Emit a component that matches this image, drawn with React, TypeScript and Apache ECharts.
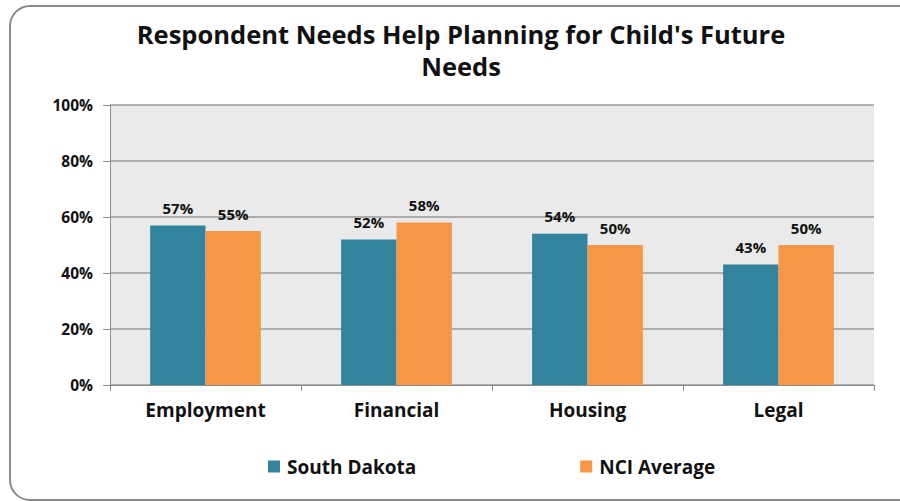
import React, { useEffect, useRef } from "react";
import * as echarts from "echarts";

const categories = ["Employment", "Financial", "Housing", "Legal"];
const southDakota = [57, 52, 54, 43];
const nciAverage = [55, 58, 50, 50];
const seriesNames = ["South Dakota", "NCI Average"];
const titleText = "Respondent Needs Help Planning for Child's Future\nNeeds";

const FONT = "'Open Sans', 'DejaVu Sans', sans-serif";

export default function App() {
  const ref = useRef<HTMLDivElement>(null);
  useEffect(() => {
    if (!ref.current) return;
    const chart = echarts.init(ref.current, undefined, { renderer: "svg" });
    const labelStyle = {
      show: true,
      position: "top" as const,
      formatter: "{c}%",
      fontFamily: FONT,
      fontWeight: "bold" as const,
      fontSize: 15,
      color: "#111",
      distance: 10,
    };
    chart.setOption({
      animation: false,
      backgroundColor: "#ffffff",
      title: {
        text: titleText,
        left: 461,
        textAlign: "center",
        top: 18,
        padding: 0,
        textStyle: {
          fontFamily: FONT,
          fontWeight: "bold",
          fontSize: 25.5,
          lineHeight: 32,
          color: "#111",
        },
      },
      graphic: [
        {
          type: "rect",
          shape: { x: 10, y: 6, width: 910, height: 494, r: 20 },
          style: { fill: "none", stroke: "#8a8a8a", lineWidth: 2 },
          silent: true,
          z: -10,
        },
      ],
      legend: {
        data: seriesNames,
        top: 457,
        left: 268,
        padding: 0,
        itemGap: 164,
        itemWidth: 12,
        itemHeight: 12,
        icon: "rect",
        textStyle: {
          fontFamily: FONT,
          fontWeight: "bold",
          fontSize: 19,
          color: "#111",
          padding: [0, 0, 0, 2],
        },
      },
      grid: {
        left: 110,
        right: 26,
        top: 105,
        bottom: 116,
        show: true,
        backgroundColor: "#eaeaea",
        borderWidth: 0,
      },
      xAxis: {
        type: "category",
        data: categories,
        axisLine: { show: true, lineStyle: { color: "#8c8c8c", width: 1 } },
        axisTick: { show: true, length: 6, lineStyle: { color: "#8c8c8c" } },
        axisLabel: {
          fontFamily: FONT,
          fontWeight: "bold",
          fontSize: 19,
          color: "#111",
          margin: 15,
        },
      },
      yAxis: {
        type: "value",
        min: 0,
        max: 100,
        interval: 20,
        axisLine: { show: true, lineStyle: { color: "#8c8c8c", width: 1 } },
        axisTick: { show: true, length: 7, lineStyle: { color: "#8c8c8c" } },
        splitLine: { show: true, lineStyle: { color: "#9a9a9a", width: 1.5 } },
        axisLabel: {
          formatter: "{value}%",
          fontFamily: FONT,
          fontWeight: "bold",
          fontSize: 15.5,
          color: "#111",
          margin: 17,
        },
      },
      series: [
        {
          name: seriesNames[0],
          type: "bar",
          data: southDakota,
          barGap: "0%",
          barCategoryGap: "42%",
          itemStyle: { color: "#31849b" },
          label: labelStyle,
        },
        {
          name: seriesNames[1],
          type: "bar",
          data: nciAverage,
          barGap: "0%",
          barCategoryGap: "42%",
          itemStyle: { color: "#f79646" },
          label: labelStyle,
        },
      ],
    });
    return () => chart.dispose();
  }, []);
  return (
    <div
      ref={ref}
      style={{ position: "fixed", left: 0, top: 0, width: 900, height: 501 }}
    />
  );
}
